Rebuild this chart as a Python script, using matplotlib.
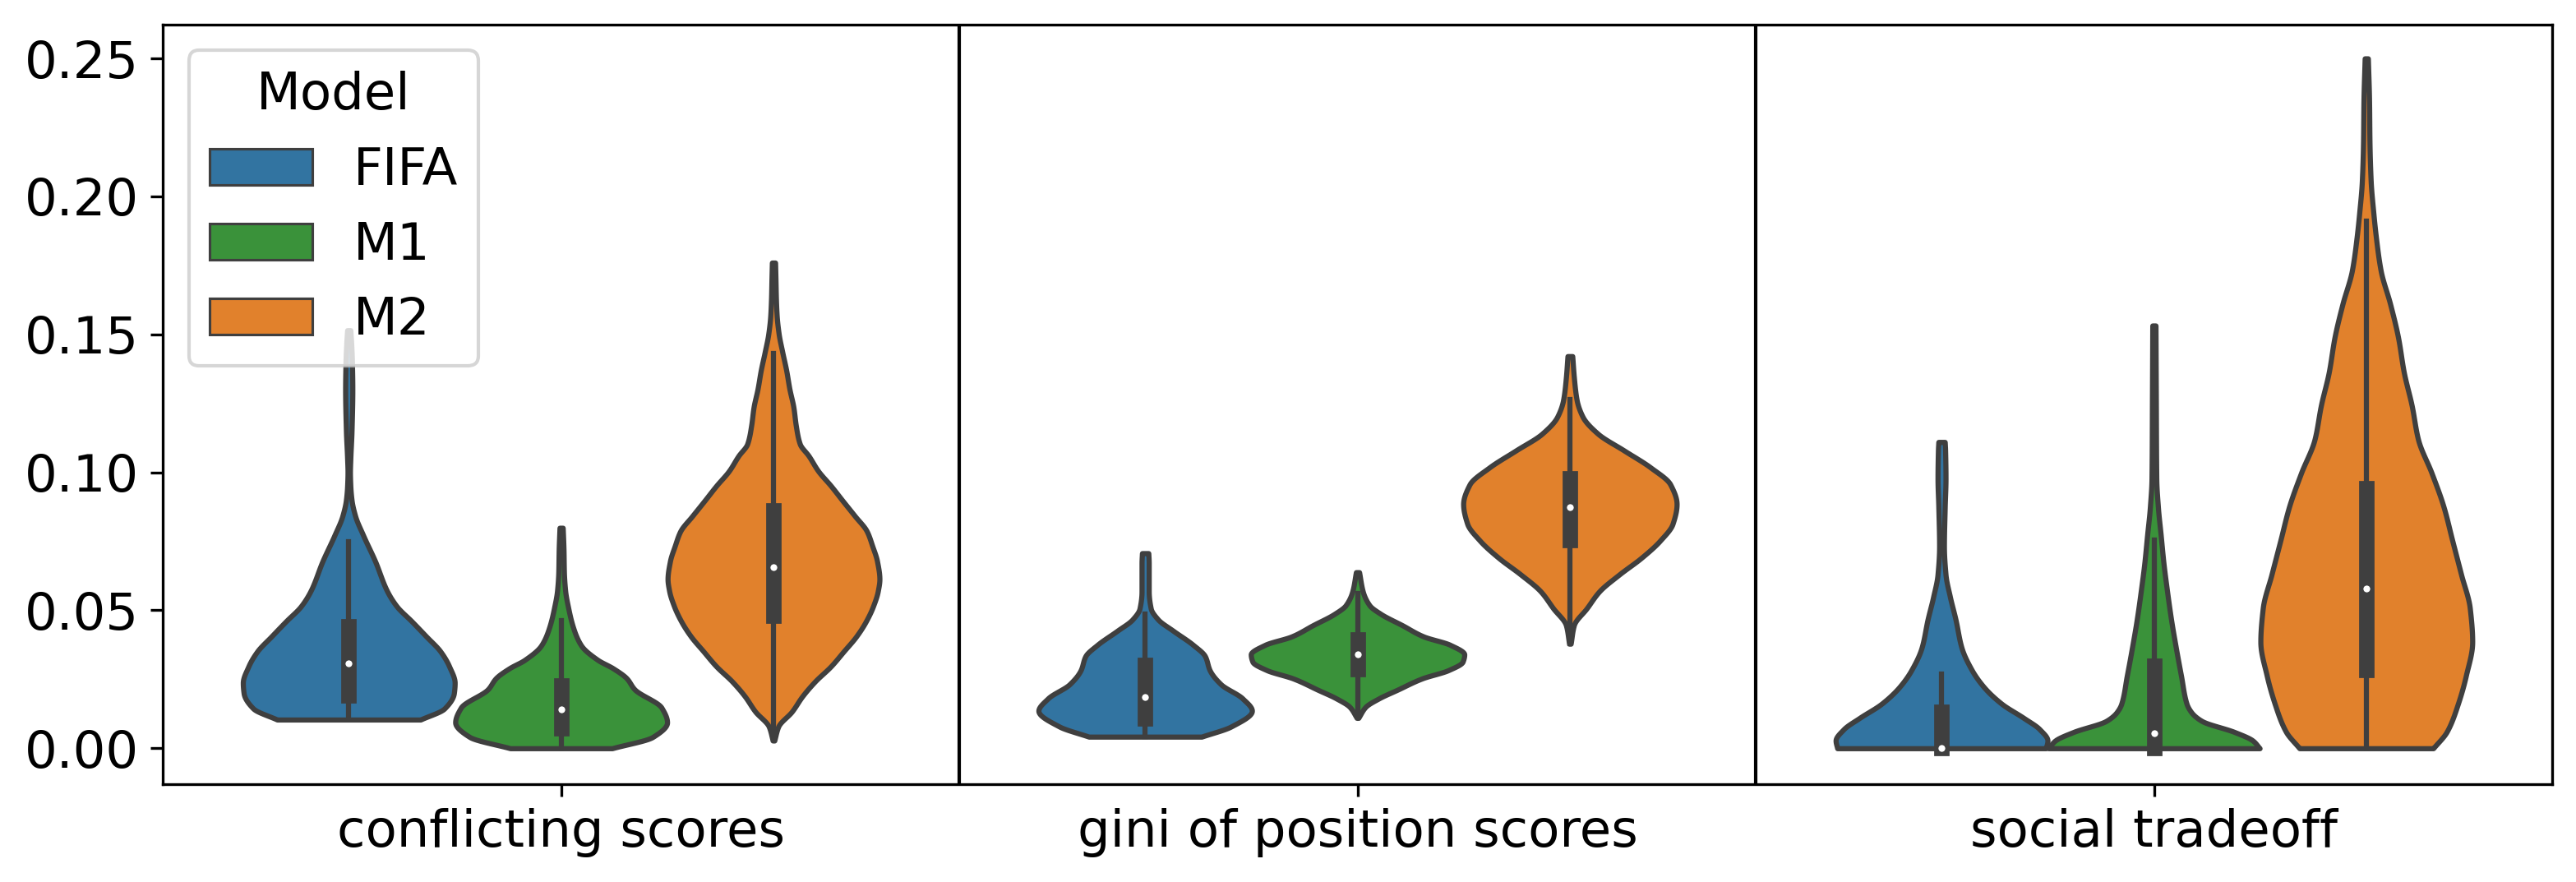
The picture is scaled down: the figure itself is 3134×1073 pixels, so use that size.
import matplotlib
matplotlib.use("Agg")
import matplotlib.pyplot as plt
from matplotlib.patches import Rectangle
import numpy as np

# ---------------- data ----------------
categories = ["conflicting scores", "gini of position scores", "social tradeoff"]
models = ["FIFA", "M1", "M2"]
colors = ["#3274a1", "#3a923a", "#e1812c"]

# violin outlines: y levels and half-widths (x data units)
conf_fifa_y = [0.0104, 0.0144, 0.0200, 0.0237, 0.0297, 0.0351, 0.0406, 0.046, 0.0515, 0.057, 0.0678, 0.0772, 0.0842, 0.090, 0.095, 0.100, 0.105, 0.115, 0.130, 0.140, 0.147, 0.1515]
conf_fifa_w = [0.090, 0.120, 0.132, 0.133, 0.126, 0.115, 0.097, 0.079, 0.060, 0.048, 0.033, 0.018, 0.008, 0.0035, 0.002, 0.0015, 0.002, 0.0035, 0.0045, 0.004, 0.003, 0.002]

conf_m1_y = [0.0, 0.0041, 0.0094, 0.0147, 0.0214, 0.0254, 0.029, 0.032, 0.0373, 0.0438, 0.0507, 0.0573, 0.0638, 0.072, 0.0799]
conf_m1_w = [0.064, 0.115, 0.133, 0.126, 0.092, 0.082, 0.065, 0.046, 0.025, 0.015, 0.009, 0.005, 0.0035, 0.003, 0.002]

conf_m2_y = [0.0028, 0.0079, 0.0133, 0.0188, 0.0242, 0.0297, 0.0351, 0.0406, 0.046, 0.0515, 0.057, 0.0613, 0.0678, 0.0733, 0.0787, 0.0842, 0.0896, 0.0951, 0.1005, 0.106, 0.1103, 0.117, 0.1236, 0.1302, 0.1369, 0.1436, 0.1502, 0.1568, 0.1634, 0.170, 0.176]
conf_m2_w = [0.001, 0.006, 0.023, 0.036, 0.052, 0.072, 0.088, 0.104, 0.116, 0.125, 0.131, 0.133, 0.130, 0.124, 0.117, 0.102, 0.087, 0.072, 0.056, 0.044, 0.033, 0.028, 0.025, 0.020, 0.016, 0.011, 0.0065, 0.004, 0.003, 0.0025, 0.002]

gini_fifa_y = [0.0042, 0.0079, 0.0136, 0.0181, 0.0232, 0.0283, 0.0334, 0.0375, 0.0426, 0.0467, 0.0507, 0.0569, 0.0671, 0.0707]
gini_fifa_w = [0.0708, 0.108, 0.134, 0.122, 0.095, 0.081, 0.075, 0.060, 0.035, 0.016, 0.007, 0.0045, 0.0045, 0.004]

gini_m1_y = [0.011, 0.015, 0.0181, 0.0212, 0.0253, 0.0283, 0.0314, 0.034, 0.0375, 0.0405, 0.0446, 0.0487, 0.0518, 0.0569, 0.0638]
gini_m1_w = [0.001, 0.010, 0.027, 0.050, 0.081, 0.114, 0.132, 0.134, 0.116, 0.083, 0.056, 0.029, 0.015, 0.0065, 0.002]

gini_m2_y = [0.0379, 0.0446, 0.0507, 0.0569, 0.063, 0.0691, 0.0752, 0.0814, 0.0885, 0.0956, 0.1018, 0.1079, 0.114, 0.1201, 0.1262, 0.1344, 0.1421]
gini_m2_w = [0.001, 0.005, 0.021, 0.037, 0.062, 0.090, 0.113, 0.129, 0.134, 0.126, 0.101, 0.068, 0.035, 0.016, 0.0085, 0.005, 0.003]

soc_fifa_y = [0.0, 0.0028, 0.0069, 0.011, 0.0161, 0.0222, 0.0283, 0.0365, 0.0467, 0.0549, 0.063, 0.0732, 0.0875, 0.0977, 0.1079, 0.111]
soc_fifa_w = [0.131, 0.133, 0.123, 0.103, 0.0755, 0.053, 0.038, 0.025, 0.0175, 0.0105, 0.005, 0.003, 0.004, 0.005, 0.0045, 0.004]

soc_m1_y = [0.0, 0.0028, 0.0059, 0.0099, 0.013, 0.0161, 0.0263, 0.0365, 0.0467, 0.0569, 0.0671, 0.0773, 0.0875, 0.0977, 0.1283, 0.1532]
soc_m1_w = [0.1327, 0.124, 0.101, 0.060, 0.047, 0.041, 0.034, 0.0275, 0.0215, 0.0165, 0.012, 0.0085, 0.005, 0.003, 0.0024, 0.002]

soc_m2_y = [0.0, 0.006, 0.0161, 0.0263, 0.0386, 0.0507, 0.063, 0.0752, 0.0875, 0.0997, 0.1119, 0.1242, 0.1364, 0.1487, 0.1609, 0.1732, 0.1854, 0.1936, 0.2058, 0.2201, 0.2344, 0.25]
soc_m2_w = [0.084, 0.101, 0.115, 0.125, 0.133, 0.130, 0.119, 0.108, 0.097, 0.082, 0.065, 0.057, 0.047, 0.040, 0.030, 0.018, 0.012, 0.009, 0.0055, 0.004, 0.0035, 0.002]

# inner box statistics per category, in model order (FIFA, M1, M2)
conf_q1 = [0.0192, 0.0072, 0.0481]
conf_med = [0.0308, 0.0141, 0.0656]
conf_q3 = [0.0443, 0.0228, 0.0863]
conf_wlo = [0.0104, 0.0, 0.003]
conf_whi = [0.0748, 0.0462, 0.143]

gini_q1 = [0.0107, 0.0287, 0.0755]
gini_med = [0.0187, 0.034, 0.0873]
gini_q3 = [0.0301, 0.0394, 0.0978]
gini_wlo = [0.0042, 0.011, 0.038]
gini_whi = [0.0488, 0.056, 0.1263]

soc_q1 = [0.0, 0.0, 0.0284]
soc_med = [0.0, 0.0055, 0.0579]
soc_q3 = [0.0133, 0.030, 0.0942]
soc_wlo = [0.0, 0.0, 0.0]
soc_whi = [0.027, 0.0754, 0.191]

# ---------------- plotting ----------------
plt.rcParams["font.family"] = ["DejaVu Sans"]
gray = "#3f3f3f"
lw = 1.5
fs = 15


def smooth_outline(yk, wk, num=400):
    """Monotone cubic (PCHIP) curve through the read outline points, for drawing only."""
    x = np.asarray(yk, float)
    y = np.asarray(wk, float)
    h = np.diff(x)
    d = np.diff(y) / h
    m = np.zeros_like(y)
    for k in range(1, len(y) - 1):
        if d[k - 1] * d[k] > 0:
            w1 = 2 * h[k] + h[k - 1]
            w2 = h[k] + 2 * h[k - 1]
            m[k] = (w1 + w2) / (w1 / d[k - 1] + w2 / d[k])
    m[0] = d[0]
    m[-1] = d[-1]
    xn = np.linspace(x[0], x[-1], num)
    idx = np.clip(np.searchsorted(x, xn, side="right") - 1, 0, len(x) - 2)
    t = (xn - x[idx]) / h[idx]
    h00 = 2 * t**3 - 3 * t**2 + 1
    h10 = t**3 - 2 * t**2 + t
    h01 = -2 * t**3 + 3 * t**2
    h11 = t**3 - t**2
    yn = (h00 * y[idx] + h10 * h[idx] * m[idx] + h01 * y[idx + 1]
          + h11 * h[idx] * m[idx + 1])
    return xn, np.maximum(yn, 0.0)


outlines = [
    [(conf_fifa_y, conf_fifa_w), (conf_m1_y, conf_m1_w), (conf_m2_y, conf_m2_w)],
    [(gini_fifa_y, gini_fifa_w), (gini_m1_y, gini_m1_w), (gini_m2_y, gini_m2_w)],
    [(soc_fifa_y, soc_fifa_w), (soc_m1_y, soc_m1_w), (soc_m2_y, soc_m2_w)],
]
boxes = [
    (conf_q1, conf_med, conf_q3, conf_wlo, conf_whi),
    (gini_q1, gini_med, gini_q3, gini_wlo, gini_whi),
    (soc_q1, soc_med, soc_q3, soc_wlo, soc_whi),
]

fig = plt.figure(figsize=(3134 / 300, 1073 / 300), dpi=300)
ax = fig.add_axes([0.06327, 0.11062, 0.92748, 0.86133])

n = len(models)
each = 0.8 / n
offsets = [-0.4 + each / 2 + k * each for k in range(n)]

for i, cat in enumerate(categories):
    q1s, meds, q3s, wlos, whis = boxes[i]
    for j in range(n):
        yv, wv = smooth_outline(*outlines[i][j])
        c = i + offsets[j]
        ax.fill_betweenx(yv, c - wv, c + wv, facecolor=colors[j],
                         edgecolor=gray, linewidth=lw, zorder=1)
        ax.plot([c, c], [wlos[j], whis[j]], color=gray, linewidth=lw, zorder=2)
        ax.plot([c, c], [q1s[j], q3s[j]], color=gray, linewidth=lw * 3, zorder=2)
        ax.scatter([c], [meds[j]], s=np.square(lw * 2), color="white",
                   edgecolor=gray, zorder=3)

for xdiv in [0.5, 1.5]:
    ax.axvline(xdiv, color="black", linewidth=1.0, zorder=0)

ax.set_xlim(-0.5, 2.5)
ax.set_ylim(-0.0131, 0.2622)
ax.set_xticks(range(len(categories)))
ax.set_xticklabels(categories, fontsize=fs)
ax.set_yticks([0.0, 0.05, 0.10, 0.15, 0.20, 0.25])
ax.set_yticklabels(["0.00", "0.05", "0.10", "0.15", "0.20", "0.25"], fontsize=fs)

handles = [Rectangle((0, 0), 0, 0, facecolor=colors[k], edgecolor=gray,
                     linewidth=lw / 2, label=models[k]) for k in range(n)]
ax.legend(handles=handles, title="Model", loc="upper left", fontsize=fs,
          title_fontsize=fs)

fig.savefig("out.png", dpi=300)
